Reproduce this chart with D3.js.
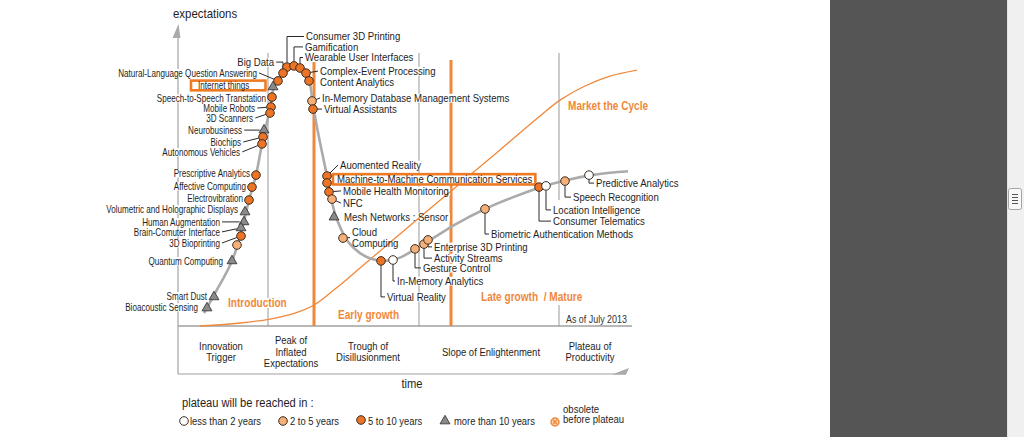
<!DOCTYPE html>
<html><head><meta charset="utf-8">
<script src="https://cdn.jsdelivr.net/npm/d3@7/dist/d3.min.js"></script>
<style>html,body{margin:0;padding:0;background:#fff;overflow:hidden;}svg{display:block}</style>
</head><body>
<svg id="chart" width="1024" height="437"></svg>
<script>
// ---------------- DATA ----------------
const hypeCurveT = [5.2,7,10.8,12.6,14.2,15.6,16.8,18.2,19,20,21,22.5,23.5,24.6,25.6,26.3,26.9,27.6,28.8,29.8,30.5,31.4,32.6,34.2,36.4,38.8,41.4,44.4,47.4,50.4,55.4,61.4,66.8,72.4,77.4,82.4,86.4,90];
const hypeCurveE = [4.3,9.7,21.7,31,42,50.3,60.7,71,78.5,82,84.7,86.5,87,86.2,84.3,81.5,75,68,58,50,43.5,37.5,32.3,27.7,24.3,22.3,21.7,22.8,25.6,28.6,33.8,39,42.8,46.2,48.5,50.2,51.1,51.6];

const marketCurveT = [4.4,12.4,18.4,23.4,27.2,31.4,36.4,44.4,54.4,64.4,72.4,76.4,81.4,86.4,91.8];
const marketCurveE = [0,1,2.3,4.3,7,12.3,19.3,30.7,44.7,58.7,70,75.3,80,83.3,85.3];

const techNames = [
  "Consumer 3D Printing","Gamification","Wearable User Interfaces","Complex-Event Processing","Content Analytics",
  "In-Memory Database Management Systems","Virtual Assistants","Big Data","Natural-Language Question Answering","Internet things",
  "Speech-to-Speech Transtation","Mobile Robots","3D Scanners","Neurobusiness","Biochips",
  "Autonomous Vehicles","Prescriptive Analytics","Affective Computing","Electrovibration","Volumetric and Holographic Displays",
  "Human Augmentation","Brain-Comuter Interface","3D Bioprinting","","Quantum Computing",
  "Smart Dust","Bioacoustic Sensing","Auomented Reality","Machine-to-Machine Communication Services","Mobile Health Monitoring",
  "NFC","Mesh Networks : Sensor","Cloud\nComputing","Virtual Reality","In-Memory Analytics",
  "Gesture Control","Activity Streams","Enterprise 3D Printing","Biometric Authentication Methods","Consumer Telematics",
  "Location Intelligence","Speech Recognition","Predictive Analytics"
];
const techT = [21.8,23.2,24.4,25.6,26.2, 26.8,27,21,20,19, 18.8,18.6,18.4,17.2,17, 16.8,15.6,14.8,14.2,13.4,
  13.2,12.6,12.6,11.8,10.8, 7.2,5.8,29.8,29.8,30.2, 30.8,31.2,33,40.6,43, 47.4,49.2,50,61.4,72.2, 73.6,77.4,82.2];
const techE = [86.3,86.7,86,84.3,81.7, 75,72.3,84.3,81.7,79.7, 76.3,73,71,65.3,63, 60.7,50.3,46.3,42,38,
  34.7,32.7,30,27,21.7, 9.7,6,50,47.7,44.7, 42.3,36.3,29.3,21.7,22, 25.7,27.3,28.7,39,46.3, 46.7,48.3,50.3];
// 0: <2 years, 1: 2-5 years, 2: 5-10 years, 3: >10 years
const techCategory = [2,2,2,2,2, 1,2,2,2,3, 2,2,2,3,2, 2,2,2,2,3, 3,3,2,1,3, 3,3,2,2,2, 1,3,1,2,0, 1,1,1,1,2, 0,1,0];

const categoryLabels = ["less than 2 years","2 to 5 years","5 to 10 years","more than 10 years","obsolete\nbefore plateau"];
const phaseLabels = [["Innovation","Trigger"],["Peak of","Inflated","Expectations"],["Trough of","Disillusionment"],["Slope of Enlightenment"],["Plateau of","Productivity"]];
const phaseCenterT = [8.6,22.6,38,62.6,82.4];
const phaseBoundaryT = [18,48.2,76.2];
const marketBoundaryT = [27.2,54.6];
const zoneLabels = ["Introduction","Early growth","Late growth  / Mature","Market the Cycle"];
const axisTitles = ["expectations","time"];
const legendTitle = "plateau will be reached in :";
const dateNote = "As of July 2013";

// ---------------- LAYOUT ----------------
const FONT = "'Liberation Sans', Arial, Helvetica, sans-serif";
const ORANGE = "#f0883a";
const TXT = "#1e1e1e";
const x = d3.scaleLinear().domain([0, 92]).range([178, 638]);
const y = d3.scaleLinear().domain([0, 100]).range([326, 26]);
const boxBottom = 374;
const R = 4.3;
// label layout per technology: [dx, dy, anchor, group, leader, boxPad]
const labelLayout = [
  [19,-30.6,'s','R','vh'],[11,-19,'s','R','vh'],[5,-10.5,'s','R','vh'],[14,-2,'s','R','l'],[11,1,'s','R','n'],
  [10,-3,'s','R','l'],[11,0,'s','R','l'],[-9,-11,'e','R','hv'],[-21,-8,'e','L','l'],[-75,-2,'s','L','n',[7,16]],
  [-6,1,'e','L','n'],[-16,1,'e','L','l'],[-17,5,'e','L','l'],[-22,0,'e','L','l'],[-22,5,'e','L','l'],
  [-22,8,'e','L','l'],[-6,-2,'e','L','n'],[-6,-1,'e','L','n'],[-6,-2,'e','L','n'],[-7,-3,'e','L','n'],
  [-24,0,'e','L','l'],[-21,4,'e','L','l'],[-21,7,'e','L','l'],null,[-9,0,'e','L','n'],
  [-7,-1,'e','L','n'],[-9,-1,'e','L','n'],[13,-11,'s','R','l'],[10,-4,'s','R','n',[4,3]],[14,-1,'s','R','l'],
  [11,4,'s','R','l'],[10,0,'s','R','n'],[9,-6,'s','R','l'],[6,36,'s','R','vh'],[4,21,'s','R','vh'],
  [8,19,'s','R','vh'],[10,14,'s','R','vh'],[6,7,'s','R','vh'],[6,25,'s','R','vh'],[14,34,'s','R','vh'],
  [7,24,'s','R','vh'],[8,16,'s','R','vh'],[7,8,'s','R','vh']
];
const LG = { L:{fs:10.5, sx:0.771}, R:{fs:11.2, sx:0.857} };

const svg = d3.select('#chart');
svg.append('rect').attr('x',0).attr('y',0).attr('width',1024).attr('height',437).attr('fill','#fff');

const gBase = svg.append('g');
const gBg = svg.append('g');
const gCurves = svg.append('g');
const gBoxes = svg.append('g');
const gLead = svg.append('g');
const gMark = svg.append('g');
const gText = svg.append('g');

function addText(g, str, px, py, fs, sx, anchor, fill, bold) {
  const t = g.append('text')
    .attr('transform', `translate(${px},${py}) scale(${sx},1)`)
    .attr('x', 0).attr('y', 0).attr('dy', '0.35em')
    .attr('font-family', FONT).attr('font-size', fs)
    .attr('text-anchor', anchor).attr('fill', fill || TXT)
    .style('white-space', 'pre')
    .text(str);
  if (bold) t.attr('font-weight', 'bold');
  const b = t.node().getBBox();
  return { x: px + b.x * sx, y: py + b.y, w: b.width * sx, h: b.height };
}
function bgRect(b) {
  gBg.append('rect').attr('x', b.x - 1).attr('y', b.y + 1.5).attr('width', b.w + 2).attr('height', b.h - 3).attr('fill', '#fff');
}

// ---------- axes & frame ----------
gBase.append('line').attr('x1', x(0)).attr('x2', x(0)).attr('y1', 37).attr('y2', boxBottom).attr('stroke', '#aaa').attr('stroke-width', 1.3);
gBase.append('path').attr('d', `M${x(0)+0.5},24 L${x(0)-5.5},38 L${x(0)+2.5},38 Z`).attr('fill', '#aaa');
gBase.append('line').attr('x1', x(0)).attr('x2', 632).attr('y1', y(0)).attr('y2', y(0)).attr('stroke', '#a0a0a0').attr('stroke-width', 1.5);
gBase.append('line').attr('x1', x(0)).attr('x2', 626).attr('y1', boxBottom).attr('y2', boxBottom).attr('stroke', '#a0a0a0').attr('stroke-width', 1.2);
gBase.append('path').attr('d', `M612,${boxBottom+0.6} L629,${boxBottom-6} L626,${boxBottom+0.6} Z`).attr('fill', '#aaa');

// phase boundaries (gray)
const boundarySegs = [[[53,326]],[[53,326]],[[53,200],[305,326]]];
phaseBoundaryT.forEach((t,i) => {
  boundarySegs[i].forEach(s => {
    gBase.append('line').attr('x1', x(t)).attr('x2', x(t)).attr('y1', s[0]).attr('y2', s[1]).attr('stroke', '#999').attr('stroke-width', 1);
  });
});
// market boundaries (orange)
marketBoundaryT.forEach(t => {
  gBase.append('line').attr('x1', x(t)).attr('x2', x(t)).attr('y1', 60).attr('y2', y(0)).attr('stroke', ORANGE).attr('stroke-width', 3);
});

// ---------- curves ----------
const lineGen = d3.line().x(d => x(d[0])).y(d => y(d[1])).curve(d3.curveCatmullRom.alpha(0.5));
gCurves.append('path').attr('d', lineGen(marketCurveT.map((t,i) => [t, marketCurveE[i]])))
  .attr('fill', 'none').attr('stroke', ORANGE).attr('stroke-width', 1.3);
gCurves.append('path').attr('d', lineGen(hypeCurveT.map((t,i) => [t, hypeCurveE[i]])))
  .attr('fill', 'none').attr('stroke', '#ababab').attr('stroke-width', 2.6);

// ---------- markers ----------
const catFill = ['#ffffff', '#f6b07a', '#ec7426', '#8a8a8a'];
function drawMarker(g, cat, mx, my) {
  if (cat === 3) {
    g.append('path').attr('d', d3.symbol(d3.symbolTriangle, 42)()).attr('transform', `translate(${mx},${my})`)
      .attr('fill', '#8a8a8a').attr('stroke', '#3a3a3a').attr('stroke-width', 0.9);
  } else if (cat === 4) {
    g.append('circle').attr('cx', mx).attr('cy', my).attr('r', 4).attr('fill', '#fbd5b5').attr('stroke', ORANGE).attr('stroke-width', 1.5);
    g.append('path').attr('d', `M${mx-2.2},${my-2.2}L${mx+2.2},${my+2.2}M${mx+2.2},${my-2.2}L${mx-2.2},${my+2.2}`).attr('stroke', ORANGE).attr('stroke-width', 1.3);
  } else {
    g.append('circle').attr('cx', mx).attr('cy', my).attr('r', R).attr('fill', catFill[cat]).attr('stroke', '#3b2d20').attr('stroke-width', 1);
  }
}

// ---------- technology labels ----------
techNames.forEach((name, i) => {
  const mx = x(techT[i]), my = y(techE[i]);
  const lay = labelLayout[i];
  if (lay && name) {
    const [dx, dy, anc, grp, ld, box] = lay;
    const st = LG[grp];
    const tx = mx + dx, ty = my + dy;
    const lines = name.split('\n');
    const lh = 11;
    let bx0 = Infinity, bx1 = -Infinity, by0 = Infinity, by1 = -Infinity;
    lines.forEach((ln, k) => {
      const b = addText(gText, ln, tx, ty + k * lh, st.fs, st.sx, anc === 'e' ? 'end' : 'start');
      bgRect(b);
      bx0 = Math.min(bx0, b.x); bx1 = Math.max(bx1, b.x + b.w);
      by0 = Math.min(by0, b.y); by1 = Math.max(by1, b.y + b.h);
    });
    if (box) {
      gBoxes.append('rect').attr('x', bx0 - box[0]).attr('y', by0 + 1).attr('width', bx1 - bx0 + box[0] + box[1]).attr('height', by1 - by0 - 1.5)
        .attr('fill', '#fff').attr('stroke', '#ee7a22').attr('stroke-width', 2.6);
    }
    const ex = anc === 'e' ? bx1 + 2 : bx0 - 2;
    const ly = ty + (lines.length - 1) * lh / 2;
    let pts = null;
    if (ld === 'l') {
      const vx = ex - mx, vy = ly - my, L = Math.hypot(vx, vy);
      pts = [[mx + vx / L * R, my + vy / L * R], [ex, ly]];
    } else if (ld === 'vh') {
      const s = ly < my ? -1 : 1;
      pts = [[mx, my + s * R], [mx, ly], [ex, ly]];
    } else if (ld === 'hv') {
      const s = ly < my ? -1 : 1;
      pts = [[ex, ly], [mx, ly], [mx, my + s * R]];
    }
    if (pts) gLead.append('path').attr('d', d3.line()(pts)).attr('fill', 'none').attr('stroke', '#2a2a2a').attr('stroke-width', 1);
  }
  drawMarker(gMark, techCategory[i], mx, my);
});

// ---------- zone labels ----------
const zonePos = [[228,303],[338,315],[481,297],[568,106]];
zoneLabels.forEach((z, i) => {
  const b = addText(gText, z, zonePos[i][0], zonePos[i][1], 12, 0.84, 'start', ORANGE, true);
  bgRect(b);
});
addText(gText, dateNote, 566, 319, 11, 0.81, 'start', '#333');

// ---------- phase labels ----------
phaseLabels.forEach((lines, i) => {
  const cy = 351.5, lh = 11.5;
  lines.forEach((ln, k) => {
    addText(gText, ln, x(phaseCenterT[i]), cy + (k - (lines.length - 1) / 2) * lh, 11.5, 0.826, 'middle', TXT);
  });
});

// ---------- axis titles ----------
addText(gText, axisTitles[0], 173, 13, 13, 0.88, 'start', TXT);
addText(gText, axisTitles[1], 412, 383, 13, 0.86, 'middle', TXT);

// ---------- legend ----------
addText(gText, legendTitle, 182, 403, 12.5, 0.89, 'start', TXT);
const legMX = [184,283,361,445,555], legMY = [421,421,420,421,422], legTX = [190,290,368,454,563];
categoryLabels.forEach((lab, i) => {
  drawMarker(gMark, i, legMX[i], legMY[i]);
  const lines = lab.split('\n');
  if (lines.length === 1) addText(gText, lab, legTX[i], 421, 11, 0.855, 'start', TXT);
  else lines.forEach((ln, k) => addText(gText, ln, legTX[i], 409 + k * 10.5, 11, 0.87, 'start', TXT));
});

// ---------- page chrome (dark panel + scrollbar) ----------
svg.append('rect').attr('x', 830).attr('y', 0).attr('width', 177).attr('height', 437).attr('fill', '#555555');
svg.append('rect').attr('x', 1007).attr('y', 0).attr('width', 17).attr('height', 437).attr('fill', '#f0f0f0');
svg.append('line').attr('x1', 1007.5).attr('x2', 1007.5).attr('y1', 0).attr('y2', 437).attr('stroke', '#e2e2e2');
svg.append('rect').attr('x', 1008.5).attr('y', 188.5).attr('width', 13).attr('height', 21).attr('rx', 2)
  .attr('fill', '#f7f7f7').attr('stroke', '#a5a5a5');
[194.5,197.5,200.5,203.5].forEach(gy => {
  svg.append('line').attr('x1', 1012).attr('x2', 1018).attr('y1', gy).attr('y2', gy).attr('stroke', '#555').attr('stroke-width', 1);
});
</script>
</body></html>
